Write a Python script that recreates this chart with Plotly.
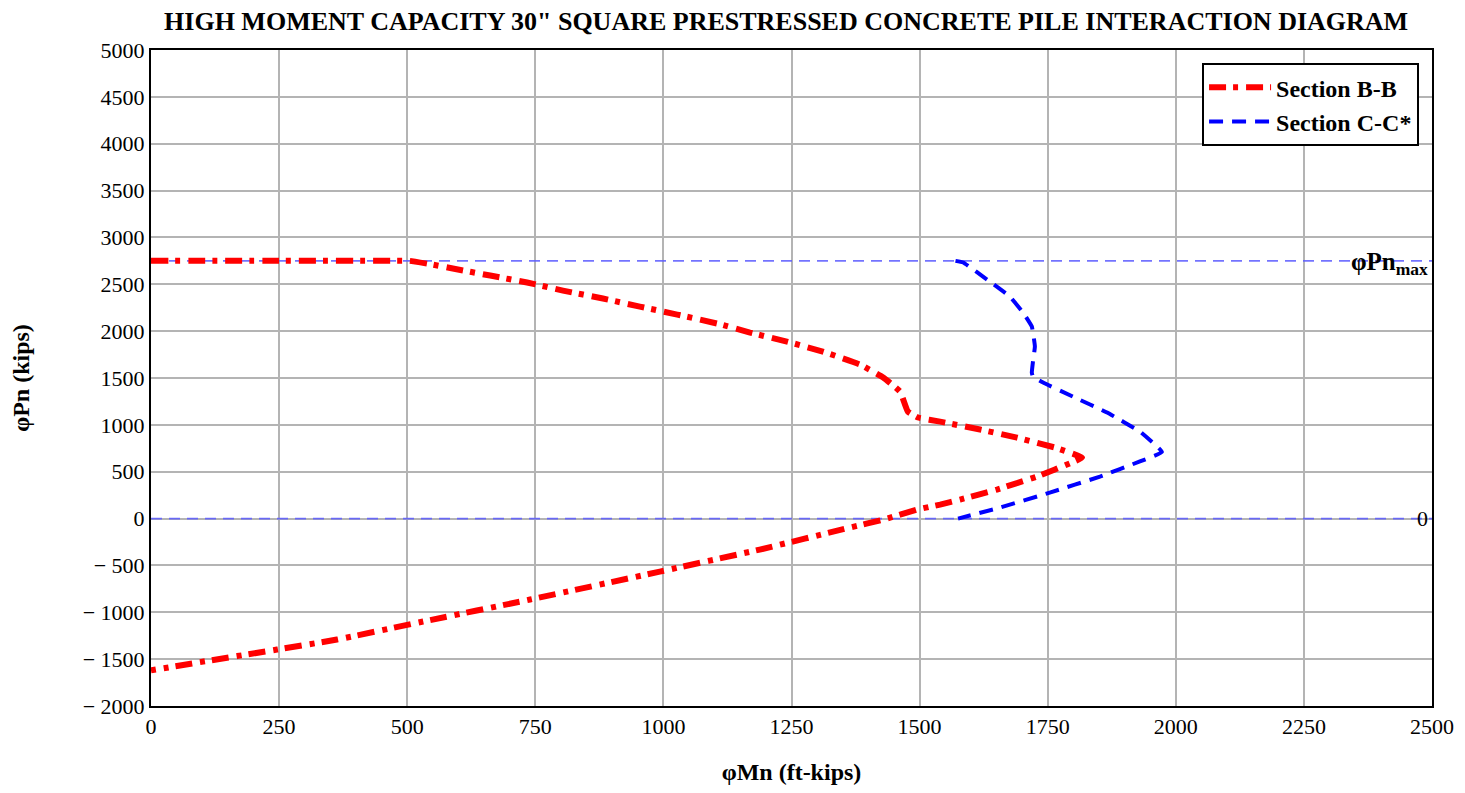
import plotly.graph_objects as go

# Section B-B (phi*Mn in ft-kips, phi*Pn in kips)
bb_mn = [0, 250, 495, 505, 550, 589, 662, 734, 804, 882, 954, 1027, 1105, 1169,
         1241, 1311, 1384, 1429, 1462, 1477, 1497, 1540, 1618, 1690, 1764, 1817,
         1797, 1729, 1651, 1579, 1540, 1495, 1429, 1364, 1188, 993,
         740, 531, 363, 246, 90, 0]
bb_pn = [2750, 2750, 2750, 2750, 2710, 2668, 2593, 2519, 2433, 2348, 2262, 2177, 2081, 1985,
         1889, 1782, 1643, 1505, 1355, 1142, 1078, 1035, 950, 864, 758, 651,
         598, 448, 310, 203, 149, 96, -11, -96, -331, -566,
         -864, -1099, -1291, -1398, -1537, -1620]

# Section C-C*
cc_mn = [1570, 1585, 1637, 1676, 1702, 1719, 1725, 1721, 1719, 1721, 1741, 1799,
         1866, 1930, 1973, 1930, 1852, 1754, 1657, 1575]
cc_pn = [2750, 2732, 2529, 2369, 2198, 2049, 1836, 1665, 1558, 1516, 1451, 1302,
         1131, 928, 710, 610, 448, 277, 117, 0]

pn_max = 2750
x_range = [0, 2500]
x_ticks = list(range(0, 2501, 250))
y_ticks = list(range(-2000, 5001, 500))
y_ticktext = [("\u2212 " + str(-v)) if v < 0 else str(v) for v in y_ticks]

font_family = "Liberation Serif, Times New Roman, serif"
ref_line = dict(color="rgba(90,90,255,0.85)", width=1.8, dash="11px,7px")

fig = go.Figure()

fig.add_trace(go.Scatter(x=x_range, y=[pn_max, pn_max], mode="lines", showlegend=False,
                         line=ref_line, hoverinfo="skip"))
fig.add_trace(go.Scatter(x=x_range, y=[0, 0], mode="lines", showlegend=False,
                         line=ref_line, hoverinfo="skip"))

fig.add_trace(go.Scatter(x=bb_mn, y=bb_pn, mode="lines", name="<b>Section B-B</b>",
                         line=dict(color="#ff0000", width=6, dash="17px,7px,5px,8px", shape="spline",
                                   smoothing=0.3)))
fig.add_trace(go.Scatter(x=cc_mn, y=cc_pn, mode="lines", name="<b>Section C-C*</b>",
                         line=dict(color="#0000ff", width=4, dash="14px,9px", shape="spline",
                                   smoothing=0.3)))

fig.add_annotation(x=x_range[1], y=pn_max, xref="x", yref="y", xanchor="right", yanchor="middle",
                   text="<b>\u03c6Pn<sub>max</sub></b>", showarrow=False, xshift=-2, yshift=-3,
                   font=dict(family=font_family, size=25, color="black"))
fig.add_annotation(x=x_range[1], y=0, xref="x", yref="y", xanchor="right", yanchor="middle",
                   text="0", showarrow=False, xshift=-2,
                   font=dict(family=font_family, size=22, color="black"))

axis_common = dict(showgrid=True, gridcolor="#b4b4b4", gridwidth=1.5,
                   showline=True, linecolor="black", linewidth=2, mirror=True,
                   zeroline=False, ticks="", automargin=False,
                   tickfont=dict(family=font_family, size=22, color="black"))

fig.update_layout(
    width=1449, height=777,
    paper_bgcolor="white", plot_bgcolor="white",
    margin=dict(l=143, r=25, t=42, b=79),
    title=dict(text="<b>HIGH MOMENT CAPACITY 30\" SQUARE PRESTRESSED CONCRETE PILE INTERACTION DIAGRAM</b>",
               x=0.537, xanchor="center", y=0.983, yanchor="middle",
               font=dict(family=font_family, size=26, color="black")),
    xaxis=dict(range=x_range, tickvals=x_ticks, ticktext=[str(v) for v in x_ticks],
               title=dict(text="<b>\u03c6Mn (ft-kips)</b>", standoff=36,
                          font=dict(family=font_family, size=24, color="black")),
               **axis_common),
    yaxis=dict(range=[-2000, 5000], tickvals=y_ticks, ticktext=y_ticktext,
               title=dict(text="<b>\u03c6Pn (kips)</b>", standoff=50,
                          font=dict(family=font_family, size=24, color="black")),
               **axis_common),
    legend=dict(x=0.9899, y=0.98, xanchor="right", yanchor="top",
                bordercolor="black", borderwidth=2, bgcolor="white",
                itemwidth=62, tracegroupgap=0,
                font=dict(family=font_family, size=24, color="black")),
)

fig.write_html("out.html")
